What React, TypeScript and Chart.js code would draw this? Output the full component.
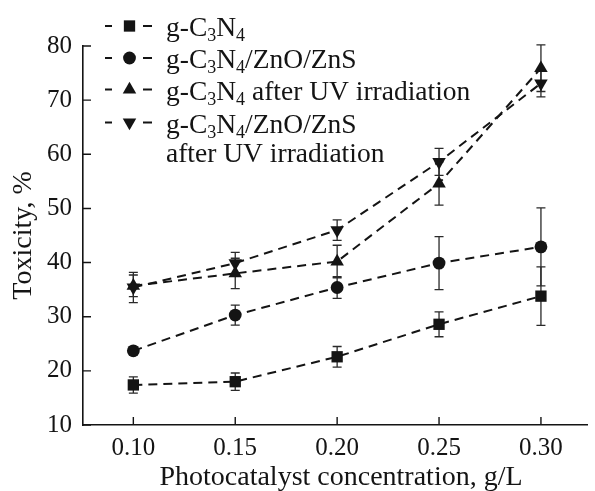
import React, { useEffect, useRef } from 'react';
import { Chart, registerables } from 'chart.js';

Chart.register(...registerables);

// ---- data ----
const concentrations = [0.1, 0.15, 0.2, 0.25, 0.3];
const xTickValues = [0.1, 0.15, 0.2, 0.25, 0.3];
const yTickValues = [10, 20, 30, 40, 50, 60, 70, 80];

const gC3N4 = [17.4, 18.0, 22.6, 28.6, 33.8];
const gC3N4Err = [1.5, 1.6, 1.9, 2.3, 5.4];
const composite = [23.7, 30.3, 35.4, 39.9, 42.9];
const compositeErr = [0.7, 1.85, 2.0, 4.9, 7.2];
const gC3N4UV = [35.7, 38.0, 40.2, 54.6, 75.9];
const gC3N4UVErr = [2.0, 2.8, 3.0, 4.0, 4.3];
const compositeUV = [35.4, 39.9, 46.0, 58.6, 73.1];
const compositeUVErr = [2.8, 2.0, 1.9, 2.5, 2.5];

const xTitle = 'Photocatalyst concentration, g/L';
const yTitle = 'Toxicity, %';

type Part = { t: string; sub?: boolean };
const legendRows: { parts: Part[]; marker: number | null }[] = [
  { parts: [{ t: 'g-C' }, { t: '3', sub: true }, { t: 'N' }, { t: '4', sub: true }], marker: 0 },
  { parts: [{ t: 'g-C' }, { t: '3', sub: true }, { t: 'N' }, { t: '4', sub: true }, { t: '/ZnO/ZnS' }], marker: 1 },
  { parts: [{ t: 'g-C' }, { t: '3', sub: true }, { t: 'N' }, { t: '4', sub: true }, { t: ' after UV irradiation' }], marker: 2 },
  { parts: [{ t: 'g-C' }, { t: '3', sub: true }, { t: 'N' }, { t: '4', sub: true }, { t: '/ZnO/ZnS' }], marker: 3 },
  { parts: [{ t: 'after UV irradiation' }], marker: null },
];

const FONT = '"Liberation Serif", "Times New Roman", serif';
const INK = '#141414';

const seriesValues = [gC3N4, composite, gC3N4UV, compositeUV];
const seriesErrors = [gC3N4Err, compositeErr, gC3N4UVErr, compositeUVErr];
const pointStyles = ['rect', 'circle', 'triangle', 'triangle'];
const pointRotations = [0, 0, 0, 180];
const pointRadii = [8, 6.4, 7.8, 7.8];

function drawMarker(ctx: CanvasRenderingContext2D, style: string, r: number, rot: number, x: number, y: number) {
  ctx.save();
  ctx.fillStyle = INK;
  ctx.beginPath();
  if (style === 'rect') {
    const s = Math.SQRT1_2 * r;
    ctx.rect(x - s, y - s, 2 * s, 2 * s);
  } else if (style === 'circle') {
    ctx.arc(x, y, r, 0, Math.PI * 2);
  } else {
    let rad = (rot * Math.PI) / 180;
    ctx.moveTo(x + Math.sin(rad) * r, y - Math.cos(rad) * r);
    rad += (2 * Math.PI) / 3;
    ctx.lineTo(x + Math.sin(rad) * r, y - Math.cos(rad) * r);
    rad += (2 * Math.PI) / 3;
    ctx.lineTo(x + Math.sin(rad) * r, y - Math.cos(rad) * r);
    ctx.closePath();
  }
  ctx.fill();
  ctx.restore();
}

const overlayPlugin = {
  id: 'overlay',
  beforeDatasetsDraw(chart: any) {
    const ctx = chart.ctx;
    const xs = chart.scales.x;
    const ys = chart.scales.y;
    ctx.save();
    ctx.strokeStyle = '#2a2a2a';
    ctx.lineWidth = 1.3;
    seriesValues.forEach((vals, si) => {
      vals.forEach((v, i) => {
        const e = seriesErrors[si][i];
        const px = xs.getPixelForValue(concentrations[i]);
        const top = ys.getPixelForValue(v + e);
        const bot = ys.getPixelForValue(v - e);
        ctx.beginPath();
        ctx.moveTo(px, top);
        ctx.lineTo(px, bot);
        ctx.moveTo(px - 4.5, top);
        ctx.lineTo(px + 4.5, top);
        ctx.moveTo(px - 4.5, bot);
        ctx.lineTo(px + 4.5, bot);
        ctx.stroke();
      });
    });
    ctx.restore();
  },
  afterDraw(chart: any) {
    const ctx = chart.ctx;
    const xs = chart.scales.x;
    const ys = chart.scales.y;
    const area = chart.chartArea;
    ctx.save();
    // inward ticks
    ctx.strokeStyle = INK;
    ctx.lineWidth = 1.4;
    ctx.beginPath();
    yTickValues.forEach((v) => {
      const py = ys.getPixelForValue(v);
      ctx.moveTo(area.left, py);
      ctx.lineTo(area.left + 8, py);
    });
    xTickValues.forEach((v) => {
      const px = xs.getPixelForValue(v);
      ctx.moveTo(px, area.bottom);
      ctx.lineTo(px, area.bottom - 8);
    });
    ctx.stroke();

    // axis titles
    ctx.fillStyle = INK;
    ctx.font = `28px ${FONT}`;
    ctx.textAlign = 'center';
    ctx.textBaseline = 'alphabetic';
    ctx.fillText(xTitle, 341, 485);
    ctx.save();
    ctx.translate(31, (area.top + area.bottom) / 2);
    ctx.rotate(-Math.PI / 2);
    ctx.fillText(yTitle, 0, 0);
    ctx.restore();

    // legend
    const baselines = [36, 68, 99.5, 132.5, 161.5];
    const textX = 166;
    ctx.textAlign = 'left';
    legendRows.forEach((row, ri) => {
      const by = baselines[ri];
      if (row.marker !== null) {
        const cy = by - 10;
        ctx.strokeStyle = INK;
        ctx.lineWidth = 2;
        ctx.beginPath();
        ctx.moveTo(105, cy);
        ctx.lineTo(112, cy);
        ctx.moveTo(143, cy);
        ctx.lineTo(152, cy);
        ctx.stroke();
        const m = row.marker;
        drawMarker(ctx, pointStyles[m], pointRadii[m], pointRotations[m], 129.5, cy);
      }
      let x = textX;
      row.parts.forEach((p) => {
        ctx.fillStyle = INK;
        if (p.sub) {
          ctx.font = `18px ${FONT}`;
          ctx.fillText(p.t, x, by + 5);
        } else {
          ctx.font = `27.5px ${FONT}`;
          ctx.fillText(p.t, x, by);
        }
        x += ctx.measureText(p.t).width;
      });
    });
    ctx.restore();
  },
};

export default function App() {
  const canvasRef = useRef<HTMLCanvasElement | null>(null);

  useEffect(() => {
    if (!canvasRef.current) return;
    const datasets = seriesValues.map((vals, si) => ({
      label: 'series' + si,
      data: vals.map((v, i) => ({ x: concentrations[i], y: v })),
      borderColor: INK,
      backgroundColor: INK,
      borderWidth: 2,
      borderDash: [9, 6],
      pointStyle: pointStyles[si] as any,
      pointRotation: pointRotations[si],
      pointRadius: pointRadii[si],
      pointBorderWidth: 0,
      pointBackgroundColor: INK,
      pointBorderColor: INK,
      tension: 0,
      fill: false,
    }));
    const chart = new Chart(canvasRef.current, {
      type: 'line',
      data: { datasets },
      options: {
        animation: false,
        responsive: false,
        devicePixelRatio: 1,
        layout: { padding: { top: 46, right: 1, left: 0, bottom: 0 } },
        plugins: { legend: { display: false }, tooltip: { enabled: false }, title: { display: false } },
        scales: {
          x: {
            type: 'linear',
            min: 0.0753,
            max: 0.3226,
            afterBuildTicks: (scale: any) => {
              scale.ticks = xTickValues.map((v) => ({ value: v }));
            },
            afterFit: (scale: any) => {
              scale.height = 66;
            },
            grid: { display: true, drawOnChartArea: false, drawTicks: false },
            border: { display: true, color: INK, width: 1.6 },
            ticks: {
              padding: 8,
              color: INK,
              font: { family: FONT, size: 25 },
              callback: (v: any) => Number(v).toFixed(2),
              maxRotation: 0,
              autoSkip: false,
            },
          },
          y: {
            type: 'linear',
            min: 10,
            max: 80,
            afterBuildTicks: (scale: any) => {
              scale.ticks = yTickValues.map((v) => ({ value: v }));
            },
            afterFit: (scale: any) => {
              scale.width = 83;
            },
            grid: { display: true, drawOnChartArea: false, drawTicks: false },
            border: { display: true, color: INK, width: 1.6 },
            ticks: {
              padding: 11,
              color: INK,
              font: { family: FONT, size: 25 },
              autoSkip: false,
            },
          },
        },
      },
      plugins: [overlayPlugin],
    });
    return () => chart.destroy();
  }, []);

  return (
    <div style={{ position: 'absolute', left: 0, top: 0, width: 595, height: 491, background: '#fff' }}>
      <canvas ref={canvasRef} width={595} height={491} style={{ width: 595, height: 491, display: 'block' }} />
    </div>
  );
}
